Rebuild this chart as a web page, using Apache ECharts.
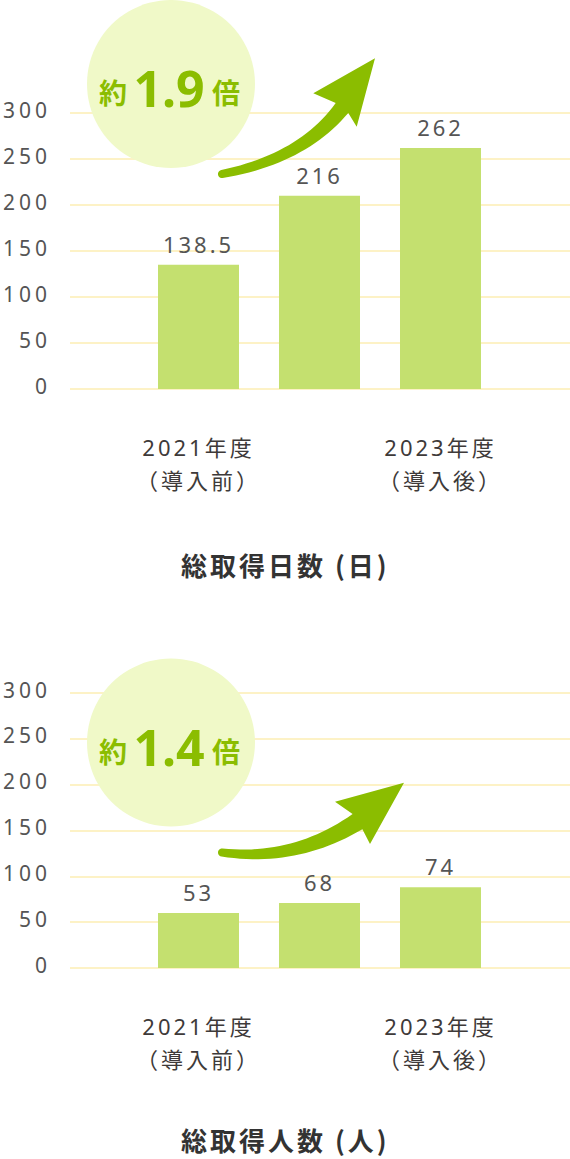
<!DOCTYPE html>
<html>
<head>
<meta charset="utf-8">
<script src="https://cdn.jsdelivr.net/npm/echarts@6/dist/echarts.min.js"></script>
<style>
html,body{margin:0;padding:0;background:#ffffff;}
#c{width:570px;height:1159px;}
</style>
</head>
<body>
<div id="c"></div>
<script>
// ---- data ----
const categories = ['2021年度\n（導入前）', '', '2023年度\n（導入後）'];
const yTicks = [0, 50, 100, 150, 200, 250, 300];
const daysBars = [135, 210, 262];          // bar heights as drawn
const daysLabels = ['138.5', '216', '262']; // printed values
const peopleBars = [60, 71, 88];
const peopleLabels = ['53', '68', '74'];
const titles = ['総取得日数 (日)', '総取得人数 (人)'];
const badgeTexts = [['約', '1.9', '倍'], ['約', '1.4', '倍']];

// ---- style ----
const FONT = "'Noto Sans', 'Noto Sans CJK JP', sans-serif";
const CJK = "'Noto Sans CJK JP', 'Noto Sans', sans-serif";
const GRID_COLOR = '#fdf2c6';
const BAR_COLOR = '#c4e06f';
const GREEN = '#8bbd00';
const CIRCLE = '#f0f9c8';
const TEXT = '#555555';

const panels = [
  { top: 113, height: 276, bars: daysBars, labels: daysLabels, title: titles[0], titleTop: 549,
    badge: { cx: 171, cy: 84, ty: 92, ny: 88, texts: badgeTexts[0] },
    arrow: { up: [[221.3,170],[299,153.7],[335.7,103.1]], head: [[313.3,93.3],[375,58.3],[356.7,126.7],[348.3,112.9]],
             low: [[348.3,112.9],[305,164.3],[222.7,178]], tail: [222,174] } },
  { top: 693, height: 275, bars: peopleBars, labels: peopleLabels, title: titles[1], titleTop: 1124,
    badge: { cx: 171, cy: 742.5, ty: 751, ny: 747, texts: badgeTexts[1] },
    arrow: { up: [[222.5,848.5],[293.6,855.7],[352.6,814]], head: [[335,801.7],[404,782.7],[370,844],[362.4,829.2]],
             low: [[362.4,829.2],[296.4,868.3],[221.5,856.5]], tail: [222,852.5] } }
];

function quad(p0, c, p1, n) {
  const pts = [];
  for (let i = 0; i <= n; i++) {
    const t = i / n, a = (1 - t) * (1 - t), b = 2 * (1 - t) * t, d = t * t;
    pts.push([a * p0[0] + b * c[0] + d * p1[0], a * p0[1] + b * c[1] + d * p1[1]]);
  }
  return pts;
}
function arrowPoints(ar) {
  let pts = quad(ar.up[0], ar.up[1], ar.up[2], 24);
  pts = pts.concat(ar.head);
  pts = pts.concat(quad(ar.low[0], ar.low[1], ar.low[2], 24).slice(1));
  const s = ar.low[2], e = ar.up[0], c = ar.tail;
  const a0 = Math.atan2(s[1] - c[1], s[0] - c[0]);
  let a1 = Math.atan2(e[1] - c[1], e[0] - c[0]);
  if (a1 < a0) a1 += Math.PI * 2;
  const r = Math.hypot(s[0] - c[0], s[1] - c[1]);
  for (let i = 1; i < 10; i++) {
    const a = a0 + (a1 - a0) * i / 10;
    pts.push([c[0] + r * Math.cos(a), c[1] + r * Math.sin(a)]);
  }
  return pts;
}

const grid = [], xAxis = [], yAxis = [], series = [], title = [], graphic = [];
panels.forEach((p, k) => {
  const gFull = grid.length;
  grid.push({ left: 70, right: 0, top: p.top, height: p.height });
  const gBars = grid.length;
  grid.push({ left: 138, width: 363, top: p.top, height: p.height });

  xAxis.push({ gridIndex: gFull, type: 'value', min: 0, max: 1, show: false });
  xAxis.push({
    gridIndex: gBars, type: 'category', data: categories,
    axisLine: { show: false }, axisTick: { show: false }, splitLine: { show: false },
    axisLabel: { interval: 0, margin: 41, lineHeight: 33, fontSize: 22, color: '#3e3a39', fontFamily: FONT }
  });
  yAxis.push({
    gridIndex: gFull, type: 'value', min: yTicks[0], max: yTicks[yTicks.length - 1],
    interval: yTicks[1] - yTicks[0],
    axisLine: { show: false }, axisTick: { show: false },
    axisLabel: { fontSize: 21, color: TEXT, margin: 19, fontFamily: FONT, verticalAlign: 'bottom', lineHeight: 7 },
    splitLine: { show: true, lineStyle: { color: GRID_COLOR, width: 2 } }
  });
  yAxis.push({
    gridIndex: gBars, type: 'value', min: yTicks[0], max: yTicks[yTicks.length - 1],
    interval: yTicks[1] - yTicks[0], show: false, splitLine: { show: false }
  });
  const labels = p.labels;
  series.push({
    type: 'bar', xAxisIndex: gBars, yAxisIndex: gBars, data: p.bars, barWidth: 81,
    itemStyle: { color: BAR_COLOR }, z: 3,
    label: { show: true, position: 'top', distance: 10, fontSize: 22, lineHeight: 22, color: TEXT, fontFamily: FONT,
             formatter: (q) => labels[q.dataIndex] }
  });
  title.push({
    text: p.title, left: 181, top: p.titleTop, padding: 0,
    textStyle: { fontSize: 26, fontWeight: 'bold', color: '#333333', lineHeight: 30, fontFamily: CJK }
  });

  const b = p.badge;
  graphic.push({ type: 'circle', z: 10, shape: { cx: b.cx, cy: b.cy, r: 84 }, style: { fill: CIRCLE } });
  graphic.push({ type: 'text', z: 12, x: 113, y: b.ty,
    style: { text: b.texts[0], fill: GREEN, fontSize: 28, fontWeight: 'bold', fontFamily: CJK,
             align: 'center', verticalAlign: 'middle', textAlign: 'center', textVerticalAlign: 'middle' } });
  graphic.push({ type: 'text', z: 12, x: 169, y: b.ny,
    style: { text: b.texts[1], fill: GREEN, fontSize: 50, fontWeight: 'bold', fontFamily: FONT,
             align: 'center', verticalAlign: 'middle', textAlign: 'center', textVerticalAlign: 'middle' } });
  graphic.push({ type: 'text', z: 12, x: 226, y: b.ty,
    style: { text: b.texts[2], fill: GREEN, fontSize: 28, fontWeight: 'bold', fontFamily: CJK,
             align: 'center', verticalAlign: 'middle', textAlign: 'center', textVerticalAlign: 'middle' } });
  graphic.push({ type: 'polygon', z: 11, shape: { points: arrowPoints(p.arrow) }, style: { fill: GREEN } });
});

const chart = echarts.init(document.getElementById('c'), null, { renderer: 'svg' });
chart.setOption({
  animation: false,
  backgroundColor: '#ffffff',
  textStyle: { fontFamily: FONT },
  title, grid, xAxis, yAxis, series, graphic
});

function applySpacing() {
  document.querySelectorAll('#c svg text').forEach((t) => {
    const fs = Math.round(parseFloat(getComputedStyle(t).fontSize));
    const txt = t.textContent;
    let ls = 0;
    if (titles.indexOf(txt) >= 0) ls = 3;
    else if (fs >= 27) ls = 0;
    else if (fs === 21) ls = 4;
    else if (fs === 22) ls = 3;
    t.style.letterSpacing = ls + 'px';
  });
}
chart.on('finished', applySpacing);
[0, 50, 200, 600].forEach((d) => setTimeout(applySpacing, d));
</script>
</body>
</html>
